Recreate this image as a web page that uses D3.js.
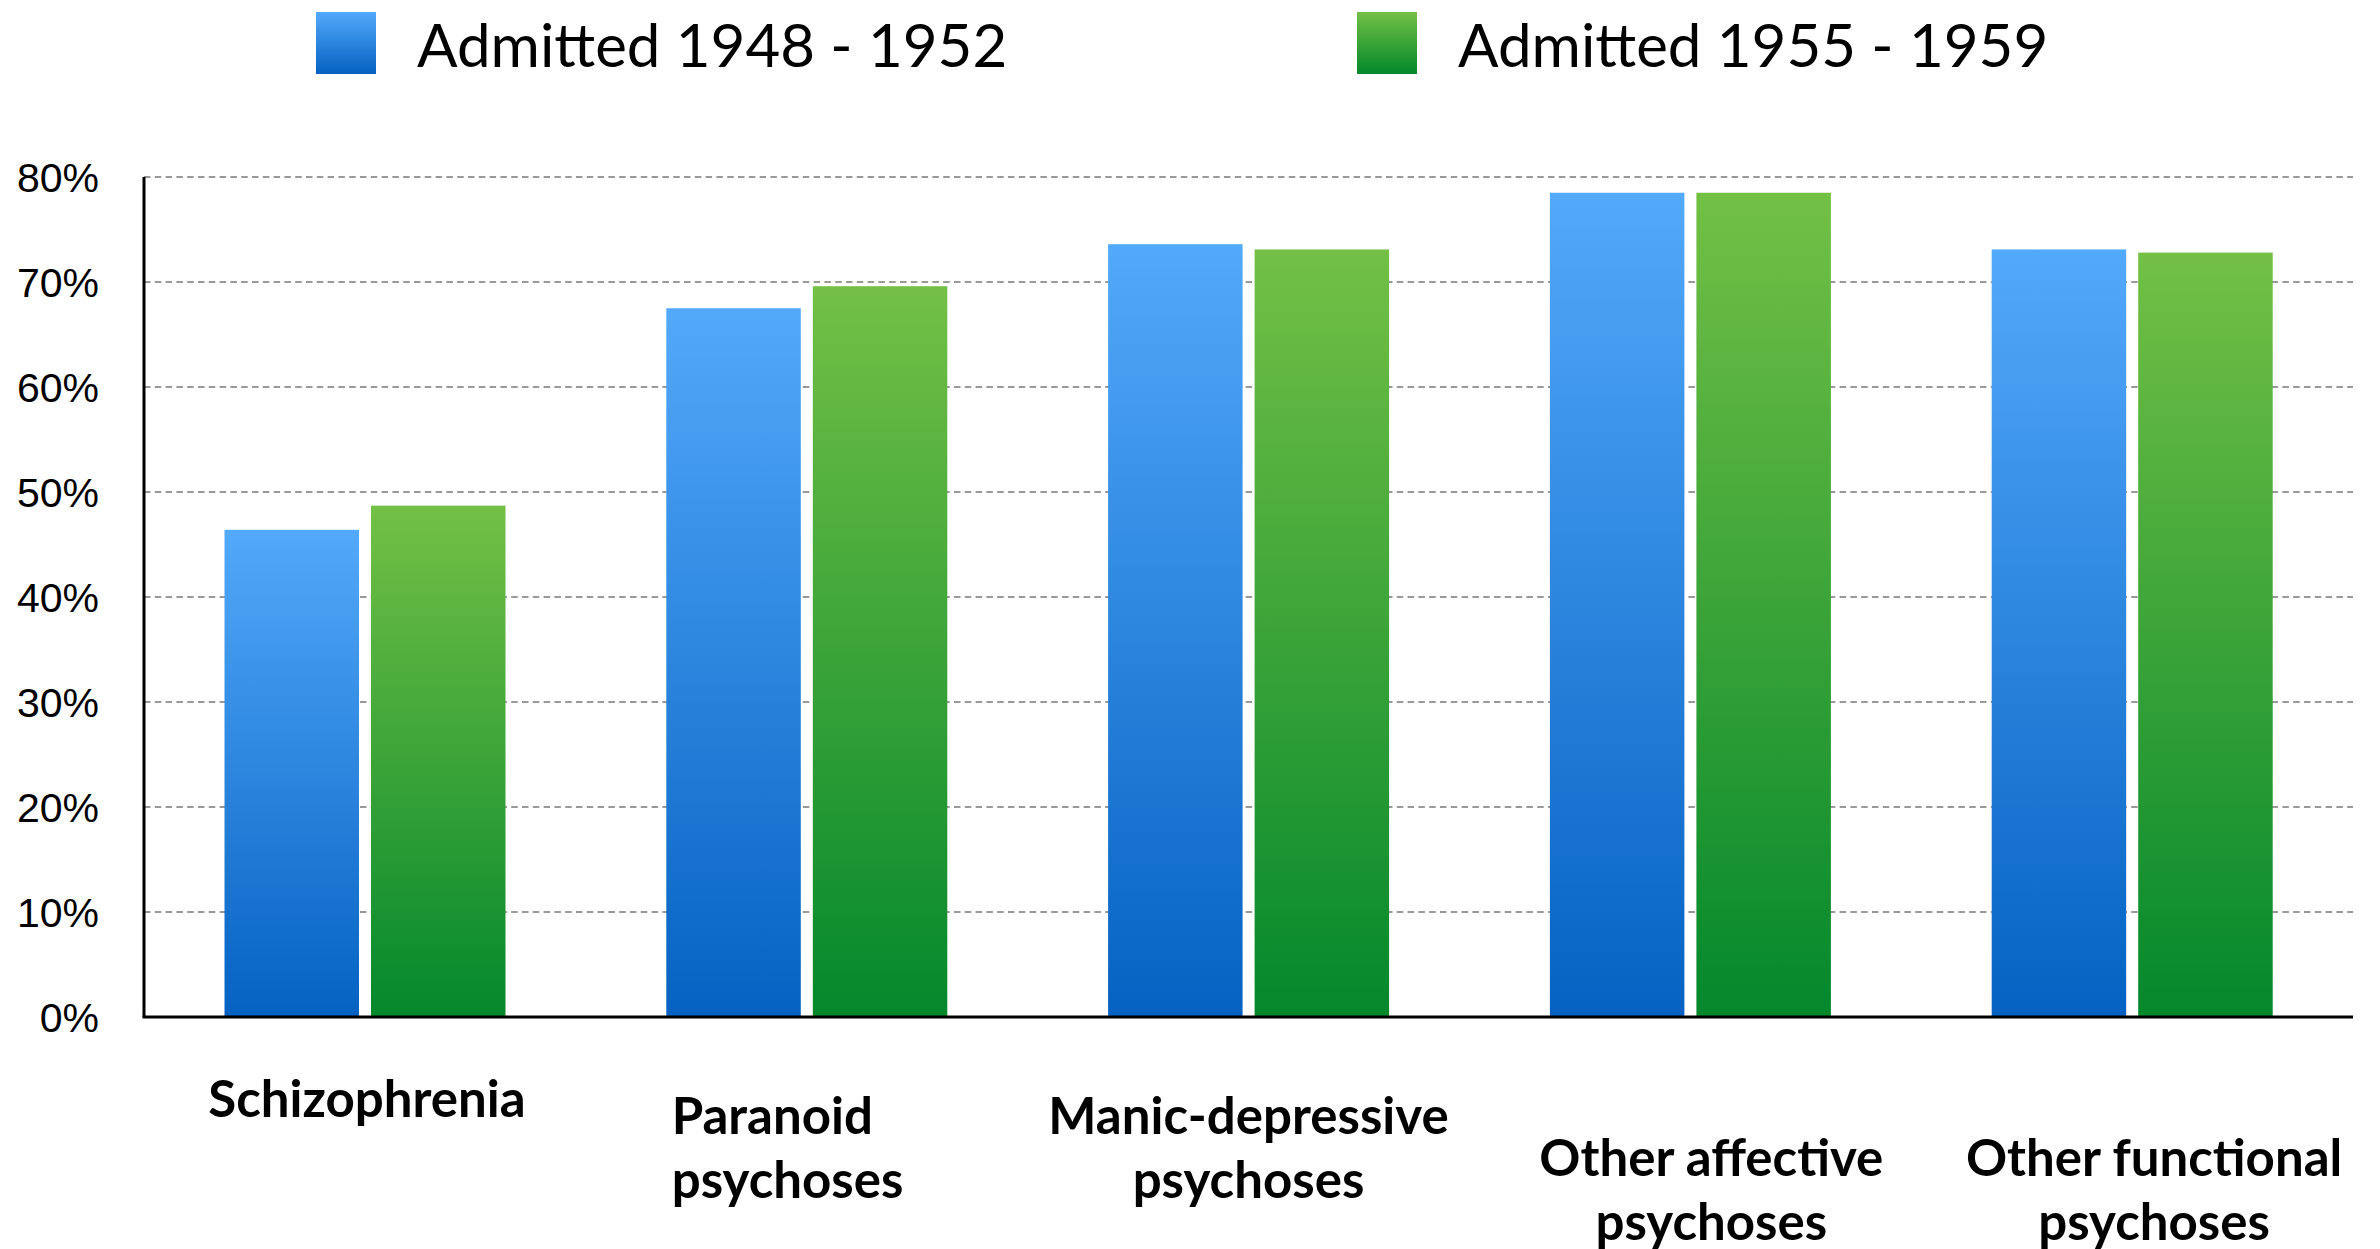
<!DOCTYPE html>
<html>
<head>
<meta charset="utf-8">
<script src="https://cdn.jsdelivr.net/npm/d3@7"></script>
<style>
  html, body { margin: 0; padding: 0; background: #fff; }
  svg { display: block; font-family: "Gill Sans", "Gill Sans MT", Lato, sans-serif; }
</style>
</head>
<body>
<svg id="chart" width="2380" height="1249"></svg>
<script>
// data
const categories = ['Schizophrenia', 'Paranoid psychoses', 'Manic-depressive psychoses', 'Other affective psychoses', 'Other functional psychoses'];
const categoryLines = [['Schizophrenia'], ['Paranoid', 'psychoses'], ['Manic-depressive', 'psychoses'], ['Other affective', 'psychoses'], ['Other functional', 'psychoses']];
const series = ['Admitted 1948 - 1952', 'Admitted 1955 - 1959'];
const admitted4852 = [46.4, 67.5, 73.6, 78.5, 73.1];
const admitted5559 = [48.7, 69.6, 73.1, 78.5, 72.8];
const yTicks = [0, 10, 20, 30, 40, 50, 60, 70, 80];

const values = [admitted4852, admitted5559];
const rows = categories.map((c, i) => ({ category: c, values: series.map((s, j) => ({ key: s, value: values[j][i] })) }));

const svg = d3.select('#chart'),
  plotLeft = 144,
  plotRight = 2353,
  plotTop = 177,
  plotBottom = 1017,
  gradStops = [
    ['#53a9fa', '#0562c2'],
    ['#73c045', '#03882c']
  ];

const x0 = d3.scaleBand().domain(categories).range([plotLeft, plotRight]).padding(0);
const x1 = d3.scaleBand().domain(series).range([80.5, 361.5]).paddingInner(0.082).paddingOuter(0);
const y = d3.scaleLinear().domain([0, 80]).range([plotBottom, plotTop]);

// gradients, one per series, stretched over each bar's own box
const defs = svg.append('defs');
series.forEach((s, i) => {
  const g = defs.append('linearGradient')
    .attr('id', 'grad' + i)
    .attr('x1', 0).attr('y1', 0).attr('x2', 0).attr('y2', 1);
  g.append('stop').attr('offset', '0%').attr('stop-color', gradStops[i][0]);
  g.append('stop').attr('offset', '100%').attr('stop-color', gradStops[i][1]);
});

// grid lines
svg.append('g')
  .selectAll('line')
  .data(yTicks.filter(d => d > 0))
  .join('line')
  .attr('x1', plotLeft)
  .attr('x2', plotRight)
  .attr('y1', d => y(d))
  .attr('y2', d => y(d))
  .style('stroke', '#999')
  .style('stroke-width', 2)
  .style('stroke-dasharray', '6.5 4.3');

// bars
svg.append('g')
  .selectAll('g')
  .data(rows)
  .join('g')
  .attr('transform', d => `translate(${x0(d.category)},0)`)
  .selectAll('rect')
  .data(d => d.values)
  .join('rect')
  .attr('x', d => x1(d.key))
  .attr('width', x1.bandwidth())
  .attr('y', d => y(d.value))
  .attr('height', d => y(0) - y(d.value))
  .style('fill', (d, i) => `url(#grad${i})`);

// y axis
const yAxis = svg.append('g')
  .attr('transform', `translate(${plotLeft},0)`)
  .call(d3.axisLeft(y).tickValues(yTicks).tickFormat(d => d + '%').tickSize(0).tickPadding(45));
yAxis.select('.domain').remove();
yAxis.selectAll('text')
  .style('font-size', '41px')
  .style('fill', '#000')
  .attr('dy', '0.36em');

svg.append('line')
  .attr('x1', plotLeft).attr('x2', plotLeft)
  .attr('y1', plotTop).attr('y2', plotBottom)
  .style('stroke', '#000').style('stroke-width', 3);
svg.append('line')
  .attr('x1', plotLeft - 1.5).attr('x2', plotRight)
  .attr('y1', plotBottom).attr('y2', plotBottom)
  .style('stroke', '#000').style('stroke-width', 3);

// category labels (staggered like the original)
const labelLayout = [
  { anchor: 'middle', dx: 2, base: 1117 },
  { anchor: 'start', dx: -135, base: 1134 },
  { anchor: 'middle', dx: 0, base: 1134 },
  { anchor: 'middle', dx: 21, base: 1176 },
  { anchor: 'middle', dx: 22, base: 1176 }
];
svg.append('g')
  .selectAll('text')
  .data(categories)
  .join('text')
  .attr('x', (d, i) => x0(d) + x0.bandwidth() / 2 + labelLayout[i].dx)
  .attr('y', (d, i) => labelLayout[i].base)
  .attr('text-anchor', (d, i) => labelLayout[i].anchor)
  .style('font-size', '51px')
  .style('font-weight', 'bold')
  .style('fill', '#000')
  .each(function(d, i) {
    d3.select(this)
      .selectAll('tspan')
      .data(categoryLines[i])
      .join('tspan')
      .attr('x', d3.select(this).attr('x'))
      .attr('dy', (t, k) => (k === 0 ? 0 : 64))
      .text(t => t);
  });

// legend
const legendX = [316, 1357];
const legend = svg.append('g')
  .selectAll('g')
  .data(series)
  .join('g')
  .attr('transform', (d, i) => `translate(${legendX[i]},12)`);
legend.append('rect')
  .attr('width', 60)
  .attr('height', 62)
  .style('fill', (d, i) => `url(#grad${i})`);
legend.append('text')
  .attr('x', 101)
  .attr('y', 55)
  .style('font-size', '60px')
  .style('fill', '#000')
  .text(d => d);
</script>
</body>
</html>
